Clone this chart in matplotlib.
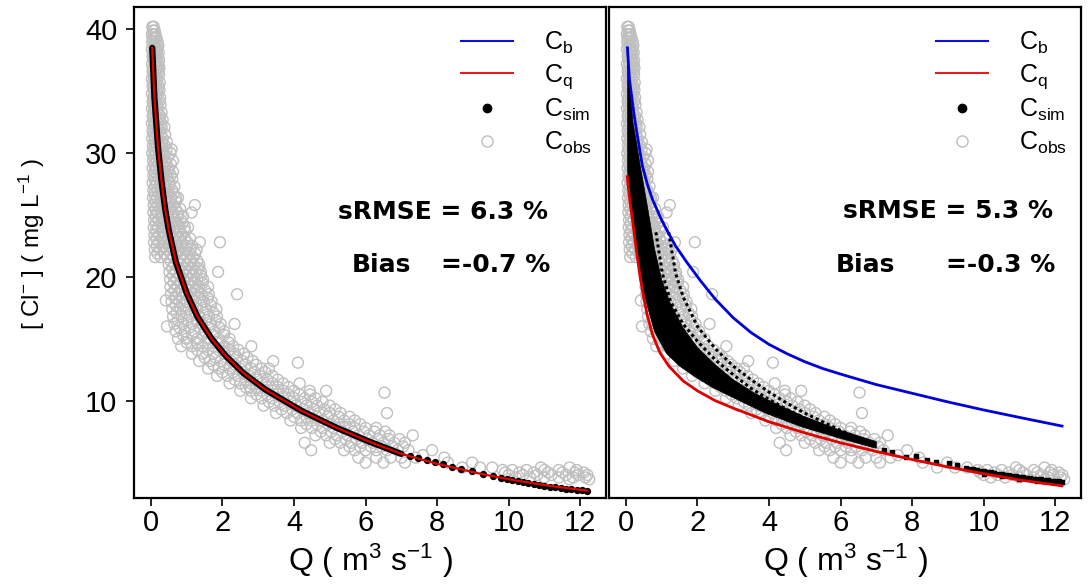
import matplotlib
matplotlib.use('Agg')
import matplotlib.pyplot as plt
from matplotlib.lines import Line2D

plt.rcParams['font.family'] = ['Liberation Sans', 'DejaVu Sans']
plt.rcParams['mathtext.fontset'] = 'custom'
plt.rcParams['mathtext.rm'] = 'Liberation Sans'
plt.rcParams['mathtext.it'] = 'Liberation Sans:italic'
plt.rcParams['mathtext.bf'] = 'Liberation Sans:bold'

# ---------------- data ----------------
# observations: concentration levels and discharge values at each level
obs_c_levels = [40.2, 39.6, 39.0, 38.4, 37.8, 37.2, 36.6, 36.0, 35.4, 34.8, 34.2, 33.6,
                33.0, 32.4, 31.8, 31.2, 30.6, 30.0, 29.4, 28.8, 28.2, 27.6, 27.0, 26.4,
                25.8, 25.2, 24.6, 24.0, 23.4, 22.8, 22.2, 21.6, 21.0, 20.4, 19.8, 19.2,
                18.6, 18.0, 17.4, 16.8, 16.2, 15.6, 15.0, 14.4, 13.8, 13.2, 12.6, 12.0,
                11.4, 10.8, 10.2, 9.6, 9.0, 8.4, 7.8, 7.2, 6.6, 6.0, 5.4, 5.0,
                4.6, 4.4, 4.2, 4.0, 3.8, 3.65]
obs_q_by_level = [
    [0.04, 0.08], [0.03, 0.09, 0.13], [0.04, 0.12, 0.19], [0.03, 0.1, 0.18],
    [0.05, 0.13, 0.2], [0.03, 0.1, 0.21], [0.05, 0.14, 0.22], [0.03, 0.1, 0.18],
    [0.05, 0.13, 0.22], [0.03, 0.11, 0.2], [0.05, 0.14, 0.24], [0.03, 0.1, 0.19],
    [0.05, 0.14, 0.26], [0.03, 0.11, 0.2, 0.29], [0.05, 0.15, 0.25], [0.04, 0.12, 0.22, 0.33],
    [0.06, 0.16, 0.27, 0.4], [0.04, 0.13, 0.24, 0.35, 0.55], [0.06, 0.17, 0.28, 0.41, 0.62],
    [0.05, 0.14, 0.25, 0.37, 0.5], [0.07, 0.18, 0.3, 0.44, 0.56], [0.05, 0.15, 0.27, 0.4, 0.52],
    [0.07, 0.19, 0.32, 0.46, 0.6], [0.06, 0.16, 0.29, 0.42, 0.56, 0.7, 0.76],
    [0.08, 0.2, 0.34, 0.48, 0.63, 1.23], [0.07, 0.18, 0.31, 0.45, 0.6, 0.76, 1.14],
    [0.09, 0.22, 0.37, 0.52, 0.68, 0.84], [0.08, 0.2, 0.34, 0.49, 0.64, 0.8, 0.95, 1.04],
    [0.1, 0.24, 0.4, 0.56, 0.72, 0.88], [0.09, 0.22, 0.37, 0.53, 0.69, 0.86, 1.02, 1.37, 1.93],
    [0.11, 0.26, 0.43, 0.6, 0.77, 0.95, 1.1, 1.28], [0.12, 0.28, 0.46, 0.64, 0.82, 1.0, 1.18],
    [0.5, 0.66, 0.84, 1.02, 1.2, 1.35], [0.52, 0.7, 0.88, 1.06, 1.25, 1.4, 1.88],
    [0.54, 0.72, 0.9, 1.1, 1.3, 1.46], [0.55, 0.75, 0.95, 1.15, 1.35, 1.6],
    [0.56, 0.78, 1.0, 1.2, 1.42, 1.62, 2.41], [0.58, 0.8, 1.02, 1.25, 1.48, 1.7],
    [0.6, 0.83, 1.06, 1.3, 1.55, 1.83], [0.62, 0.86, 1.1, 1.36, 1.62, 1.85],
    [0.66, 0.9, 1.16, 1.42, 1.68, 1.95, 2.34], [0.7, 0.95, 1.22, 1.5, 1.78, 2.05],
    [0.76, 1.0, 1.3, 1.6, 1.9, 2.2], [0.85, 1.15, 1.45, 1.75, 2.05, 2.3, 2.81],
    [1.15, 1.45, 1.75, 2.05, 2.35, 2.6], [1.35, 1.65, 1.95, 2.25, 2.55, 2.85, 3.42],
    [1.6, 1.9, 2.2, 2.5, 2.8, 3.1, 3.3], [1.85, 2.15, 2.45, 2.75, 3.05, 3.4],
    [2.2, 2.5, 2.8, 3.1, 3.4, 3.7, 4.16], [2.5, 2.8, 3.1, 3.4, 3.7, 4.0, 4.44, 4.9],
    [2.8, 3.1, 3.4, 3.7, 4.0, 4.3, 4.6], [3.15, 3.45, 3.75, 4.05, 4.35, 4.65, 5.0],
    [3.5, 3.8, 4.1, 4.4, 4.7, 5.0, 5.3, 6.6], [3.9, 4.2, 4.5, 4.8, 5.1, 5.4, 5.7],
    [4.2, 4.5, 4.8, 5.1, 5.4, 5.7, 6.0, 6.3], [4.6, 4.9, 5.2, 5.5, 5.8, 6.1, 6.4, 6.67, 7.32],
    [4.3, 5.0, 5.3, 5.6, 5.9, 6.2, 6.5, 6.8, 7.1], [4.48, 5.4, 5.7, 6.0, 6.3, 6.6, 6.9, 7.2, 7.86],
    [5.8, 6.3, 6.7, 7.0, 7.4, 8.2], [6.0, 6.5, 7.1, 8.3, 8.98],
    [8.7, 9.2, 9.54, 10.9, 11.7], [9.83, 10.1, 10.5, 11.0, 11.4, 11.9],
    [9.9, 10.3, 10.7, 11.1, 11.5, 11.85, 12.1], [10.0, 10.4, 10.8, 11.2, 11.6, 11.95, 12.2],
    [10.2, 10.6, 11.0, 11.4, 11.8, 12.15], [11.7, 12.25]]
# in-between rows of the dense part of the cloud
obs_c_levels_b = [39.9, 39.3, 38.7, 38.1, 37.5, 36.9, 36.3, 35.7, 35.1, 34.5, 33.9, 33.3,
                  32.7, 32.1, 31.5, 30.9, 30.3, 29.7, 29.1, 28.5, 27.9, 27.3, 26.7, 26.1,
                  25.5, 24.9, 24.3, 23.7, 23.1, 22.5, 21.9, 21.3, 20.7, 20.1, 19.5, 18.9,
                  18.3, 17.7, 17.1, 16.5, 15.9, 15.3, 14.7, 14.1, 13.5, 12.9, 12.3, 11.7,
                  11.1, 10.5, 9.9, 9.3, 8.7, 8.1, 7.5, 6.9, 6.3]
obs_q_by_level_b = [
    [0.06, 0.11], [0.05, 0.1, 0.16], [0.06, 0.14, 0.21], [0.06, 0.15, 0.22],
    [0.07, 0.16, 0.23], [0.06, 0.17, 0.24], [0.07, 0.15, 0.23], [0.06, 0.16, 0.25],
    [0.08, 0.17, 0.24], [0.07, 0.16, 0.26], [0.07, 0.17, 0.27], [0.08, 0.19, 0.3],
    [0.07, 0.16, 0.25, 0.33], [0.08, 0.19, 0.3, 0.38], [0.08, 0.18, 0.28, 0.4],
    [0.09, 0.2, 0.32, 0.45], [0.08, 0.19, 0.3, 0.44, 0.58], [0.09, 0.22, 0.35, 0.48],
    [0.09, 0.2, 0.32, 0.44, 0.56], [0.1, 0.22, 0.36, 0.5, 0.62], [0.1, 0.22, 0.34, 0.47, 0.6],
    [0.11, 0.24, 0.38, 0.52, 0.66], [0.1, 0.23, 0.36, 0.5, 0.64], [0.12, 0.26, 0.4, 0.55, 0.7],
    [0.12, 0.25, 0.39, 0.54, 0.69, 0.82], [0.13, 0.28, 0.44, 0.6, 0.76, 0.9],
    [0.13, 0.28, 0.43, 0.58, 0.73, 0.88], [0.14, 0.31, 0.48, 0.64, 0.8, 0.96],
    [0.15, 0.3, 0.46, 0.62, 0.78, 0.95, 1.1], [0.16, 0.33, 0.5, 0.67, 0.84, 1.0, 1.16],
    [0.18, 0.36, 0.55, 0.72, 0.9, 1.08, 1.24], [0.55, 0.74, 0.93, 1.12, 1.3],
    [0.6, 0.8, 0.98, 1.16, 1.34], [0.62, 0.82, 1.0, 1.2, 1.4], [0.64, 0.85, 1.05, 1.25, 1.45],
    [0.66, 0.88, 1.1, 1.3, 1.52], [0.68, 0.9, 1.13, 1.37, 1.6], [0.7, 0.94, 1.18, 1.42, 1.68],
    [0.72, 0.98, 1.23, 1.5, 1.75], [0.76, 1.02, 1.28, 1.55, 1.82], [0.8, 1.08, 1.36, 1.64, 1.92],
    [0.9, 1.15, 1.45, 1.75, 2.05], [1.0, 1.3, 1.6, 1.9, 2.18], [1.3, 1.6, 1.9, 2.2, 2.45],
    [1.5, 1.8, 2.1, 2.4, 2.7], [1.75, 2.05, 2.35, 2.65, 2.95], [2.0, 2.3, 2.6, 2.9, 3.2],
    [2.35, 2.65, 2.95, 3.25, 3.55], [2.65, 2.95, 3.25, 3.55, 3.85],
    [2.95, 3.25, 3.55, 3.85, 4.15, 4.45], [3.3, 3.6, 3.9, 4.2, 4.5, 4.8],
    [3.65, 3.95, 4.25, 4.55, 4.85, 5.15], [4.0, 4.35, 4.65, 4.95, 5.25, 5.55],
    [4.35, 4.65, 4.95, 5.25, 5.55, 5.85], [4.75, 5.05, 5.35, 5.65, 5.95, 6.25, 6.55],
    [5.15, 5.45, 5.75, 6.05, 6.35, 6.65, 6.95], [5.55, 5.85, 6.15, 6.45, 6.75, 7.05]]
obs_extra_q = [6.53, 4.11, 7.6, 2.76, 0.42, 0.45]
obs_extra_c = [10.65, 13.07, 5.6, 11.1, 18.1, 16.0]

# left panel: fitted curve (C_q = C_sim)
left_curve_q = [0.04, 0.1, 0.2, 0.3, 0.4, 0.5, 0.7, 1.0, 1.3, 1.7, 2.1, 2.6, 3.2, 4.2, 5.2,
                6.1, 7.0, 8.0, 9.2, 10.2, 11.2, 12.2]
left_curve_c = [38.5, 34.5, 30.5, 27.7, 25.5, 23.8, 21.2, 18.7, 16.8, 15.0, 13.6, 12.2, 10.9,
                9.2, 7.8, 6.7, 5.7, 4.9, 4.1, 3.55, 3.1, 2.73]
left_sim_tail_q = [7.23, 7.46, 7.72, 7.93, 8.16, 8.42, 8.67, 8.98, 9.27, 9.55, 9.79, 9.95, 10.1,
                   10.25, 10.4, 10.55, 10.7, 10.85, 11.0, 11.15, 11.3, 11.45, 11.6, 11.75, 11.9,
                   12.05, 12.2]
left_sim_tail_c = [5.55, 5.38, 5.18, 5.03, 4.86, 4.68, 4.52, 4.3, 4.05, 3.9, 3.75, 3.65, 3.58,
                   3.5, 3.42, 3.36, 3.28, 3.21, 3.14, 3.06, 3.0, 2.93, 2.88, 2.83, 2.79, 2.75, 2.71]

# right panel curves
right_cb_q = [0.045, 0.1, 0.23, 0.3, 0.46, 0.6, 0.74, 1.0, 1.2, 1.39, 1.7, 2.07, 2.5, 3.0,
              3.5, 4.0, 4.5, 5.0, 5.5, 6.0, 7.0, 8.0, 9.0, 10.0, 11.0, 12.19]
right_cb_c = [38.5, 36.0, 33.1, 31.8, 29.0, 27.5, 26.3, 24.6, 23.5, 22.5, 21.2, 19.75, 18.2,
              16.7, 15.5, 14.55, 13.8, 13.15, 12.6, 12.15, 11.3, 10.6, 9.9, 9.25, 8.65, 7.95]
right_cq_q = [0.04, 0.1, 0.2, 0.3, 0.4, 0.5, 0.6, 0.75, 0.95, 1.2, 1.6, 2.0, 2.5, 3.0, 3.5,
              4.0, 5.0, 6.0, 7.0, 8.0, 9.0, 10.0, 11.0, 12.19]
right_cq_c = [28.1, 26.4, 24.3, 22.0, 20.0, 18.3, 16.9, 15.3, 13.9, 12.8, 11.6, 10.8, 10.0, 9.4,
              8.85, 8.3, 7.4, 6.6, 5.9, 5.25, 4.65, 4.1, 3.6, 3.12]

# right panel simulated: dense band (lower / upper edges) and dotted trajectories
sim_band_low_q = [0.05, 0.1, 0.2, 0.3, 0.4, 0.55, 0.8, 1.14, 1.5, 1.9, 2.4, 3.0, 3.9, 4.9,
                  6.0, 7.0]
sim_band_low_c = [28.5, 26.8, 24.8, 22.6, 20.6, 18.2, 15.6, 13.8, 12.8, 12.0, 11.1, 10.25, 9.0,
                  7.9, 6.95, 6.15]
sim_band_up_q = [0.05, 0.12, 0.2, 0.3, 0.4, 0.5, 0.62, 0.8, 1.0, 1.25, 1.6, 2.0, 2.5, 3.0,
                 3.6, 4.3, 5.0, 6.0, 7.0]
sim_band_up_c = [38.3, 35.0, 32.5, 30.8, 29.0, 27.4, 25.4, 22.3, 19.8, 17.8, 15.9, 14.3, 12.9,
                 11.7, 10.6, 9.6, 8.7, 7.6, 6.7]
sim_track_a_q = [0.84, 1.02, 1.25, 1.6, 2.0, 2.5, 3.0, 3.5, 4.0, 4.5, 5.0, 5.5, 6.0, 6.5, 7.0]
sim_track_a_c = [23.6, 20.3, 18.0, 16.2, 14.8, 13.3, 12.1, 11.0, 10.1, 9.3, 8.6, 8.0, 7.4, 6.9, 6.4]
sim_track_b_q = [1.2, 1.39, 1.6, 2.0, 2.5, 3.0, 3.5, 4.0, 4.5, 5.0, 5.5, 6.0, 6.5, 7.0]
sim_track_b_c = [23.6, 20.3, 18.4, 16.0, 14.2, 12.8, 11.7, 10.7, 9.8, 9.0, 8.3, 7.6, 7.0, 6.5]
right_sim_tail_q = [7.22, 7.45, 7.83, 8.1, 8.43, 8.66, 9.03, 9.26, 9.5, 9.6, 9.7, 9.8, 9.9, 10.0,
                    10.1, 10.2, 10.3, 10.4, 10.5, 10.6, 10.7, 10.8, 10.9, 11.0, 11.1, 11.2, 11.3,
                    11.4, 11.5, 11.6, 11.7, 11.8, 11.9, 12.0, 12.1, 12.2, 10.0, 10.5, 11.0, 11.5,
                    12.0]
right_sim_tail_c = [6.0, 5.88, 5.48, 5.53, 5.2, 5.07, 5.0, 4.8, 4.55, 4.5, 4.45, 4.4, 4.35, 4.3,
                    4.28, 4.22, 4.15, 4.1, 4.05, 4.0, 3.98, 3.92, 3.9, 3.86, 3.8, 3.78, 3.75,
                    3.7, 3.68, 3.65, 3.6, 3.58, 3.55, 3.52, 3.5, 3.47, 4.1, 3.9, 3.7, 3.55, 3.4]

stat_srmse = ['sRMSE = 6.3 %', 'sRMSE = 5.3 %']
stat_bias = ['=-0.7 %', '=-0.3 %']

# ---------------- figure ----------------
obs_q = ([q for qs in obs_q_by_level for q in qs]
         + [q for qs in obs_q_by_level_b for q in qs] + obs_extra_q)
obs_c = ([c for c, qs in zip(obs_c_levels, obs_q_by_level) for _ in qs]
         + [c for c, qs in zip(obs_c_levels_b, obs_q_by_level_b) for _ in qs] + obs_extra_c)

fig = plt.figure(figsize=(10.89, 5.87), dpi=100)
W, H = 1089.0, 587.0
ax1 = fig.add_axes([134 / W, 1 - 498 / H, 472 / W, 491 / H])
ax2 = fig.add_axes([609 / W, 1 - 498 / H, 472 / W, 491 / H])

GRAY = '#bfbfbf'
for ax in (ax1, ax2):
    ax.scatter(obs_q, obs_c, s=62, facecolors='none', edgecolors=GRAY, linewidths=1.0, zorder=2)

# left panel
ax1.plot(left_curve_q[:17], left_curve_c[:17], color='black', lw=4.5, solid_capstyle='round', zorder=3)
ax1.scatter(left_sim_tail_q, left_sim_tail_c, s=18, marker='o', color='black', zorder=3)
ax1.plot(left_curve_q, left_curve_c, color='#e00000', lw=1.6, zorder=4)

# right panel
band_q = sim_band_low_q + sim_band_up_q[::-1]
band_c = sim_band_low_c + sim_band_up_c[::-1]
ax2.fill(band_q, band_c, color='black', lw=0.5, zorder=3)
ax2.plot(sim_track_a_q, sim_track_a_c, color='black', lw=2.2, ls=(0, (1, 1)), zorder=3)
ax2.plot(sim_track_b_q, sim_track_b_c, color='black', lw=2.2, ls=(0, (1, 1)), zorder=3)
ax2.scatter(right_sim_tail_q, right_sim_tail_c, s=7, marker='s', color='black', zorder=3)
ax2.plot(right_cq_q, right_cq_c, color='#e00000', lw=2.0, zorder=4)
ax2.plot(right_cb_q, right_cb_c, color='#0000dd', lw=2.0, zorder=4)

handles = [Line2D([], [], color='#1010dd', lw=1.5),
           Line2D([], [], color='#e02020', lw=1.5),
           Line2D([], [], color='black', marker='o', ms=6, ls='none'),
           Line2D([], [], color=GRAY, marker='o', ms=8, mfc='none', mew=1.0, ls='none')]
labels = [r'C$_{\mathrm{b}}$', r'C$_{\mathrm{q}}$', r'C$_{\mathrm{sim}}$', r'C$_{\mathrm{obs}}$']

xlab = r'Q ( m$^{3}$ s$^{-1}$ )'
for ax in (ax1, ax2):
    ax.set_xlim(-0.47, 12.72)
    ax.set_ylim(2.14, 41.8)
    ax.set_xticks([0, 2, 4, 6, 8, 10, 12])
    ax.set_yticks([10, 20, 30, 40])
    ax.tick_params(axis='both', direction='out', length=6, width=1.2, labelsize=21, pad=2)
    ax.tick_params(axis='y', pad=6)
    for sp in ax.spines.values():
        sp.set_linewidth(1.6)
    ax.set_xlabel(xlab, fontsize=23)
    ax.xaxis.set_label_coords(0.5, -0.088)
    ax.legend(handles, labels, loc='upper right', bbox_to_anchor=(1.012, 0.995), frameon=False,
              fontsize=18, handlelength=2.05, handletextpad=1.25, labelspacing=0.25,
              borderpad=0.3)

ax2.tick_params(axis='y', left=False, labelleft=False)
ax1.set_ylabel(r'[ Cl$^{-}$ ] ( mg L$^{-1}$ )', fontsize=17.5)
ax1.yaxis.set_label_coords(-0.185, 0.516)

sfont = dict(fontsize=18, fontweight='bold', family='DejaVu Sans', va='center')
fig.text(548 / W, 1 - 212 / H, stat_srmse[0], ha='right', **sfont)
fig.text(352 / W, 1 - 265 / H, 'Bias', ha='left', **sfont)
fig.text(550 / W, 1 - 265 / H, stat_bias[0], ha='right', **sfont)
fig.text(1053 / W, 1 - 211 / H, stat_srmse[1], ha='right', **sfont)
fig.text(836 / W, 1 - 265 / H, 'Bias', ha='left', **sfont)
fig.text(1055 / W, 1 - 265 / H, stat_bias[1], ha='right', **sfont)

fig.savefig('out.png', dpi=100)
